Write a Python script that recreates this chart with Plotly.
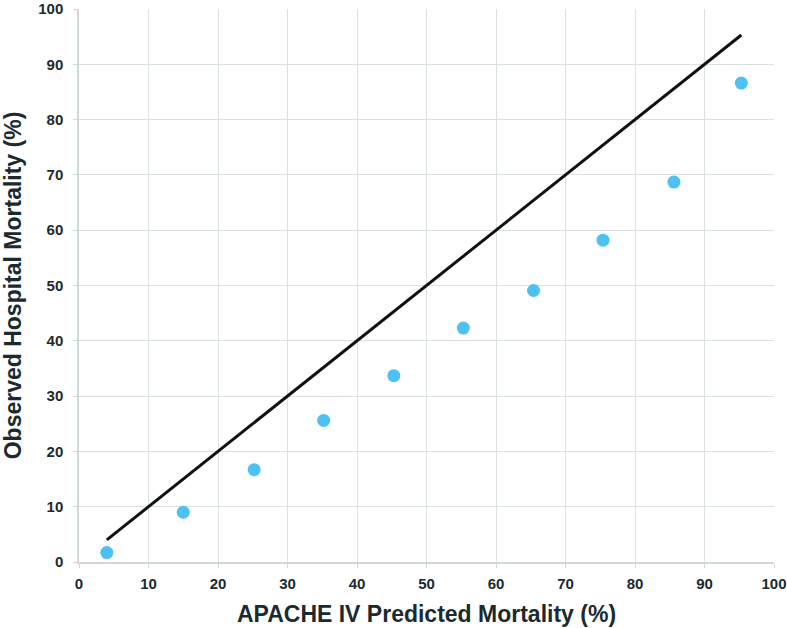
import plotly.graph_objects as go

predicted = [4.0, 15.0, 25.2, 35.2, 45.3, 55.3, 65.4, 75.4, 85.6, 95.3]
observed = [1.7, 9.0, 16.7, 25.6, 33.7, 42.3, 49.1, 58.2, 68.7, 86.6]
ideal_x = [4.0, 95.3]
ideal_y = [4.0, 95.3]
ticks = [0, 10, 20, 30, 40, 50, 60, 70, 80, 90, 100]

fig = go.Figure()
fig.add_trace(go.Scatter(x=ideal_x, y=ideal_y, mode="lines",
                         line=dict(color="#111111", width=3), showlegend=False))
fig.add_trace(go.Scatter(x=predicted, y=observed, mode="markers",
                         marker=dict(color="#4dc1f2", size=13), showlegend=False))

font_col = "#1b2a2f"
axis_common = dict(
    range=[0, 100], tickvals=ticks, showgrid=True, gridcolor="#d9e1e1", gridwidth=1,
    showline=True, linecolor="#cfd8d8", linewidth=1.5, ticks="outside", ticklen=4,
    tickcolor="#cfd8d8", zeroline=False, automargin=False, ticklabeloverflow="allow",
    tickfont=dict(family="Liberation Sans", size=15, color=font_col, weight="bold"),
)
fig.update_xaxes(**axis_common, ticklabelstandoff=3,
                 title=dict(text="<b>APACHE IV Predicted Mortality (%)</b>",
                            font=dict(family="Liberation Sans", size=23, color=font_col),
                            standoff=15))
fig.update_yaxes(**axis_common, ticklabelstandoff=7,
                 title=dict(text="<b>Observed Hospital Mortality (%)</b>",
                            font=dict(family="Liberation Sans", size=23, color=font_col),
                            standoff=10))
fig.update_layout(width=787, height=628, plot_bgcolor="white", paper_bgcolor="white",
                  margin=dict(l=79, r=13, t=9, b=66))
fig.write_html("out.html", config={"displayModeBar": False},
               post_script="document.body.style.margin='0';document.body.style.overflow='hidden';")
